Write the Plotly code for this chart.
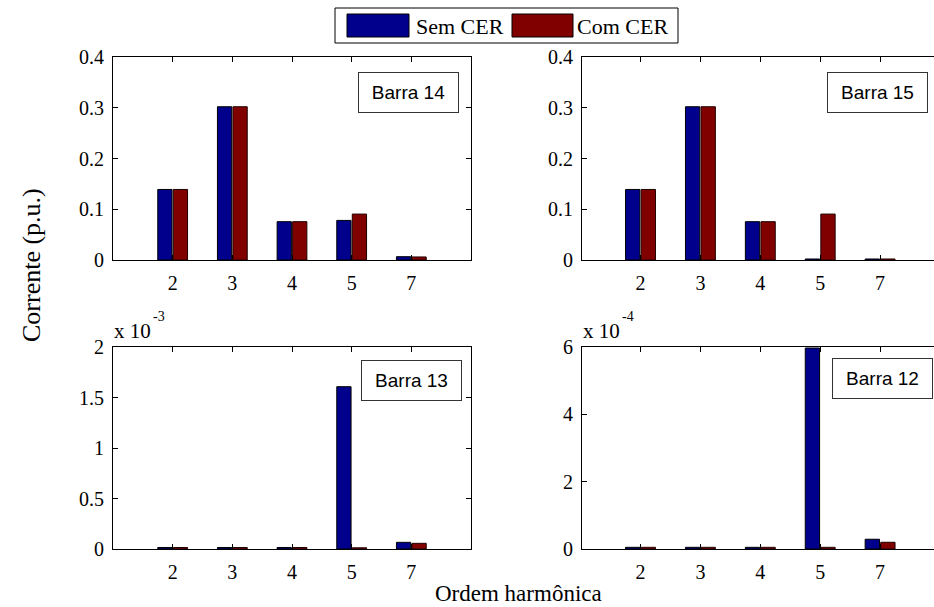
import plotly.graph_objects as go

# ---------------- data ----------------
harmonicos = ["2", "3", "4", "5", "7"]

barra14_sem = [0.139, 0.302, 0.0755, 0.078, 0.0065]
barra14_com = [0.139, 0.302, 0.0755, 0.0905, 0.006]

barra15_sem = [0.139, 0.302, 0.0755, 0.002, 0.002]
barra15_com = [0.139, 0.302, 0.0755, 0.0905, 0.002]

barra13_sem = [0.015e-3, 0.015e-3, 0.015e-3, 1.607e-3, 0.066e-3]
barra13_com = [0.015e-3, 0.015e-3, 0.015e-3, 0.012e-3, 0.056e-3]

barra12_sem = [0.05e-4, 0.05e-4, 0.05e-4, 5.97e-4, 0.29e-4]
barra12_com = [0.05e-4, 0.05e-4, 0.05e-4, 0.05e-4, 0.20e-4]

series_names = ["Sem CER", "Com CER"]
panel_titles = ["Barra 14", "Barra 15", "Barra 13", "Barra 12"]

top_ticks = [0, 0.1, 0.2, 0.3, 0.4]
top_ticktext = ["0", "0.1", "0.2", "0.3", "0.4"]
b13_ticks = [0, 0.5e-3, 1.0e-3, 1.5e-3, 2.0e-3]
b13_ticktext = ["0", "0.5", "1", "1.5", "2"]
b12_ticks = [0, 2e-4, 4e-4, 6e-4]
b12_ticktext = ["0", "2", "4", "6"]
expoentes = ["-3", "-4"]

# ---------------- style ----------------
W, H = 934, 607
BLUE = "#00008C"
RED = "#800000"
SERIF = "Liberation Serif"
SANS = "Liberation Sans"

def px_x(p):
    return p / W

def px_y(p):
    return 1 - p / H

fig = go.Figure()

panels = [
    (barra14_sem, barra14_com, "x", "y"),
    (barra15_sem, barra15_com, "x2", "y2"),
    (barra13_sem, barra13_com, "x3", "y3"),
    (barra12_sem, barra12_com, "x4", "y4"),
]
for sem, com, xa, ya in panels:
    fig.add_trace(go.Bar(x=harmonicos, y=sem, name=series_names[0], xaxis=xa, yaxis=ya,
                         marker=dict(color=BLUE, line=dict(color="#000000", width=1)),
                         showlegend=False))
    fig.add_trace(go.Bar(x=harmonicos, y=com, name=series_names[1], xaxis=xa, yaxis=ya,
                         marker=dict(color=RED, line=dict(color="#200000", width=1)),
                         showlegend=False))

dom_left = [px_x(113), px_x(471)]
dom_right = [px_x(582), 1.0]
dom_top = [px_y(260), px_y(57)]
dom_bot = [px_y(549), px_y(347)]

tickfont = dict(family=SERIF, size=20, color="#000000")

def xaxis(domain, anchor, rng):
    return dict(domain=domain, anchor=anchor, type="category", range=rng,
                showline=True, linecolor="#000000", linewidth=1, mirror="ticks",
                ticks="inside", ticklen=5, tickcolor="#000000",
                showgrid=False, zeroline=False, tickfont=tickfont,
                ticklabelstandoff=5, fixedrange=True, automargin=False)

def yaxis(domain, anchor, rng, tv, tt, mirror):
    return dict(domain=domain, anchor=anchor, range=rng,
                tickvals=tv, ticktext=tt,
                showline=True, linecolor="#000000", linewidth=1, mirror=mirror,
                ticks="inside", ticklen=5, tickcolor="#000000",
                showgrid=False, zeroline=False, tickfont=tickfont,
                ticklabelstandoff=4, fixedrange=True, automargin=False)

fig.update_layout(
    template="none",
    width=W, height=H, autosize=False,
    margin=dict(l=0, r=0, t=0, b=0, pad=0),
    paper_bgcolor="#ffffff", plot_bgcolor="#ffffff",
    barmode="group", bargap=0.48, bargroupgap=0.08,
    xaxis=xaxis(dom_left, "y", [-1, 5]),
    yaxis=yaxis(dom_top, "x", [0, 0.4], top_ticks, top_ticktext, "ticks"),
    xaxis2=xaxis(dom_right, "y2", [-0.977, 4.9]),
    yaxis2=yaxis(dom_top, "x2", [0, 0.4], top_ticks, top_ticktext, False),
    xaxis3=xaxis(dom_left, "y3", [-1, 5]),
    yaxis3=yaxis(dom_bot, "x3", [0, 2e-3], b13_ticks, b13_ticktext, "ticks"),
    xaxis4=xaxis(dom_right, "y4", [-0.977, 4.9]),
    yaxis4=yaxis(dom_bot, "x4", [0, 6e-4], b12_ticks, b12_ticktext, False),
    showlegend=False,
)

annotations = []
# panel labels
label_pos = [(408.8, 92.2), (877.5, 92.2), (411.8, 380.0), (882.2, 378.0)]
for t, (cx, cy) in zip(panel_titles, label_pos):
    annotations.append(dict(xref="paper", yref="paper", x=px_x(cx), y=px_y(cy),
                            xanchor="center", yanchor="middle", text=t, showarrow=False,
                            font=dict(family=SANS, size=19, color="#000000"),
                            width=95, height=35, borderpad=2, borderwidth=1,
                            bordercolor="#333333", bgcolor="#ffffff", align="center"))

# exponent labels ("x 10" with raised exponent)
for x0, exp in zip([112, 581], expoentes):
    annotations.append(dict(xref="paper", yref="paper", x=px_x(x0), y=px_y(331),
                            xanchor="left", yanchor="middle", showarrow=False,
                            text="x 10", font=dict(family=SERIF, size=21, color="#000000")))
    annotations.append(dict(xref="paper", yref="paper", x=px_x(x0 + 39), y=px_y(316),
                            xanchor="left", yanchor="middle", showarrow=False,
                            text=exp, font=dict(family=SERIF, size=14, color="#000000")))

# axis titles
annotations.append(dict(xref="paper", yref="paper", x=px_x(31), y=px_y(265),
                        xanchor="center", yanchor="middle", showarrow=False, textangle=-90,
                        text="Corrente (p.u.)", font=dict(family=SERIF, size=26, color="#000000")))
annotations.append(dict(xref="paper", yref="paper", x=px_x(518), y=px_y(593),
                        xanchor="center", yanchor="middle", showarrow=False,
                        text="Ordem harmônica", font=dict(family=SERIF, size=23, color="#000000")))

# legend (custom box)
shapes = [
    dict(type="rect", xref="paper", yref="paper", x0=px_x(335), x1=px_x(678),
         y0=px_y(43), y1=px_y(8), line=dict(color="#000000", width=1), fillcolor="#ffffff"),
    dict(type="rect", xref="paper", yref="paper", x0=px_x(347), x1=px_x(409),
         y0=px_y(37), y1=px_y(14), line=dict(color="#000000", width=1), fillcolor=BLUE),
    dict(type="rect", xref="paper", yref="paper", x0=px_x(512), x1=px_x(573),
         y0=px_y(37), y1=px_y(14), line=dict(color="#000000", width=1), fillcolor=RED),
]
annotations.append(dict(xref="paper", yref="paper", x=px_x(414), y=px_y(26),
                        xanchor="left", yanchor="middle", showarrow=False,
                        text=series_names[0], font=dict(family=SERIF, size=22, color="#000000")))
annotations.append(dict(xref="paper", yref="paper", x=px_x(575), y=px_y(26),
                        xanchor="left", yanchor="middle", showarrow=False,
                        text=series_names[1], font=dict(family=SERIF, size=22, color="#000000")))

fig.update_layout(annotations=annotations, shapes=shapes)

fig.write_html("out.html", config={"displayModeBar": False})
